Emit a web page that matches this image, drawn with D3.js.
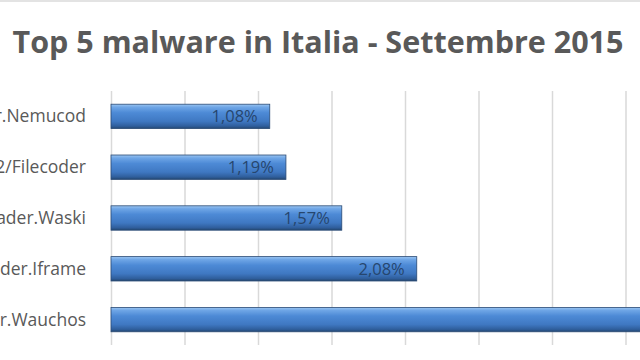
<!DOCTYPE html>
<html><head><meta charset="utf-8">
<script src="https://cdn.jsdelivr.net/npm/d3@7/dist/d3.min.js"></script>
<style>body{margin:0;background:#fff;}svg{display:block;}</style>
</head><body><svg id="c" width="640" height="360"></svg>
<script>
const categories = ["JS/TrojanDownloader.Nemucod","Win32/Filecoder","Win32/TrojanDownloader.Waski","HTML/TrojanDownloader.Iframe","Win32/TrojanDownloader.Wauchos"];
const values = [1.08, 1.19, 1.57, 2.08, 4.6];
const labels = ["1,08%","1,19%","1,57%","2,08%","4,60%"];
const gridTicks = [0,0.5,1,1.5,2,2.5,3,3.5,4,4.5];

const svg = d3.select("#c");
const defs = svg.append("defs");
const g = defs.append("linearGradient").attr("id","bevel").attr("x1",0).attr("y1",0).attr("x2",0).attr("y2",1);
[[0,"#9cc6f2"],[0.12,"#6fa6e6"],[0.35,"#4d8ad6"],[0.7,"#3f78c2"],[0.9,"#2f5e9c"],[1,"#24476f"]].forEach(s=>g.append("stop").attr("offset",s[0]).attr("stop-color",s[1]));

svg.append("rect").attr("x",0).attr("y",0).attr("width",640).attr("height",2).attr("fill","#e3e3e3");

svg.append("text").attr("x",318).attr("y",53).attr("text-anchor","middle")
  .attr("font-family","Open Sans").attr("font-weight","bold").attr("font-size",30.5)
  .attr("fill","#595959").text("Top 5 malware in Italia - Settembre 2015");

const x = d3.scaleLinear().domain([0,1]).range([111,258]);
const y = d3.scaleBand().domain(categories).range([91,345]).paddingInner(0.52).paddingOuter(0.26);

svg.append("g").attr("transform","translate(0,345)")
  .call(d3.axisBottom(x).tickValues(gridTicks).tickSize(-254).tickFormat(""))
  .call(a=>a.select(".domain").remove())
  .call(a=>a.selectAll("line").attr("stroke","#d9d9d9").attr("stroke-width",1.5));

svg.append("g").selectAll("rect").data(categories).join("rect")
  .attr("x",x(0)).attr("y",d=>y(d)).attr("height",y.bandwidth())
  .attr("width",(d,i)=>x(values[i])-x(0))
  .attr("fill","url(#bevel)").attr("stroke","#2a4a75").attr("stroke-width",0.8);

svg.append("g").selectAll("text").data(categories).join("text")
  .attr("x",(d,i)=>x(values[i])-12).attr("y",d=>y(d)+y.bandwidth()/2+6)
  .attr("text-anchor","end").attr("font-family","Open Sans").attr("font-size",16.5)
  .attr("fill","#26466e").text((d,i)=>labels[i]);

svg.append("g").selectAll("text").data(categories).join("text")
  .attr("x",86).attr("y",d=>y(d)+y.bandwidth()/2+6)
  .attr("text-anchor","end").attr("font-family","Open Sans").attr("font-size",17.5)
  .attr("fill","#595959").text(d=>d);
</script></body></html>
